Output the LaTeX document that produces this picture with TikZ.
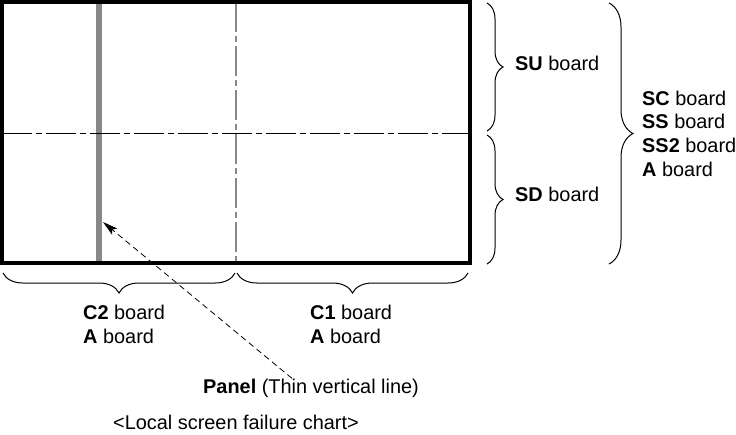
\documentclass[tikz,border=0pt]{standalone}
\usepackage{fontspec}
\setmainfont{Liberation Sans}
\usepackage{xcolor}
\usetikzlibrary{arrows.meta,positioning,decorations.pathreplacing}
\definecolor{panelgray}{RGB}{136,136,136}

\tikzset{
  lbl/.style={anchor=base west,inner sep=0pt,align=left,
    font=\fontsize{19.9}{23.6}\selectfont},
  bracedeco/.style={decorate,decoration={brace,amplitude=#1},line width=1pt},
  dashdot/.style={dash pattern=on 30pt off 4pt on 6pt off 4pt}
}

\begin{document}
\begin{tikzpicture}[x=1pt,y=1pt,>=Stealth]
  \useasboundingbox (0,0) rectangle (736,-434);
  % screen
  \draw[panelgray,line width=6pt] (98.5,-2) -- (98.5,-263);
  \draw[panelgray,line width=1.6pt,dashdot] (236,-2) -- (236,-263);
  \draw[black,line width=1pt,dashdot] (2,-133) -- (470,-133);
  \draw[line width=4pt] (2,-2) rectangle (470,-263);
  % braces
  \draw[bracedeco=16pt] (487,-3) -- (487,-131);
  \draw[bracedeco=16pt] (487,-135) -- (487,-264);
  \draw[bracedeco=24pt] (609,-3) -- (609,-264);
  \draw[bracedeco=20pt] (235,-273) -- (3,-273);
  \draw[bracedeco=20pt] (468,-273) -- (237,-273);
  % labels (multi-line nodes sit on their last baseline)
  \node[lbl] (su) at (515,-70.7) {\textbf{SU} board};
  \node[lbl] (sd) at (515,-201.7) {\textbf{SD} board};
  \node[lbl] (sc) at (642,-176) {\textbf{SC} board\\\textbf{SS} board\\\textbf{SS2} board\\\textbf{A} board};
  \node[lbl] (c2) at (83,-343) {\textbf{C2} board\\\textbf{A} board};
  \node[lbl] (c1) at (310,-343) {\textbf{C1} board\\\textbf{A} board};
  \node[lbl] (panel) at (203,-393) {\textbf{Panel} (Thin vertical line)};
  \node[lbl] (chart) at (113,-429) {<Local screen failure chart>};
  % pointer to the thin line
  \coordinate (linehit) at (103,-222);
  \draw[->,line width=0.8pt,dash pattern=on 6pt off 4pt,>={Stealth[length=15pt,width=8pt,inset=3pt]}]
    ([xshift=89pt]panel.north west) -- (linehit);
\end{tikzpicture}
\end{document}
